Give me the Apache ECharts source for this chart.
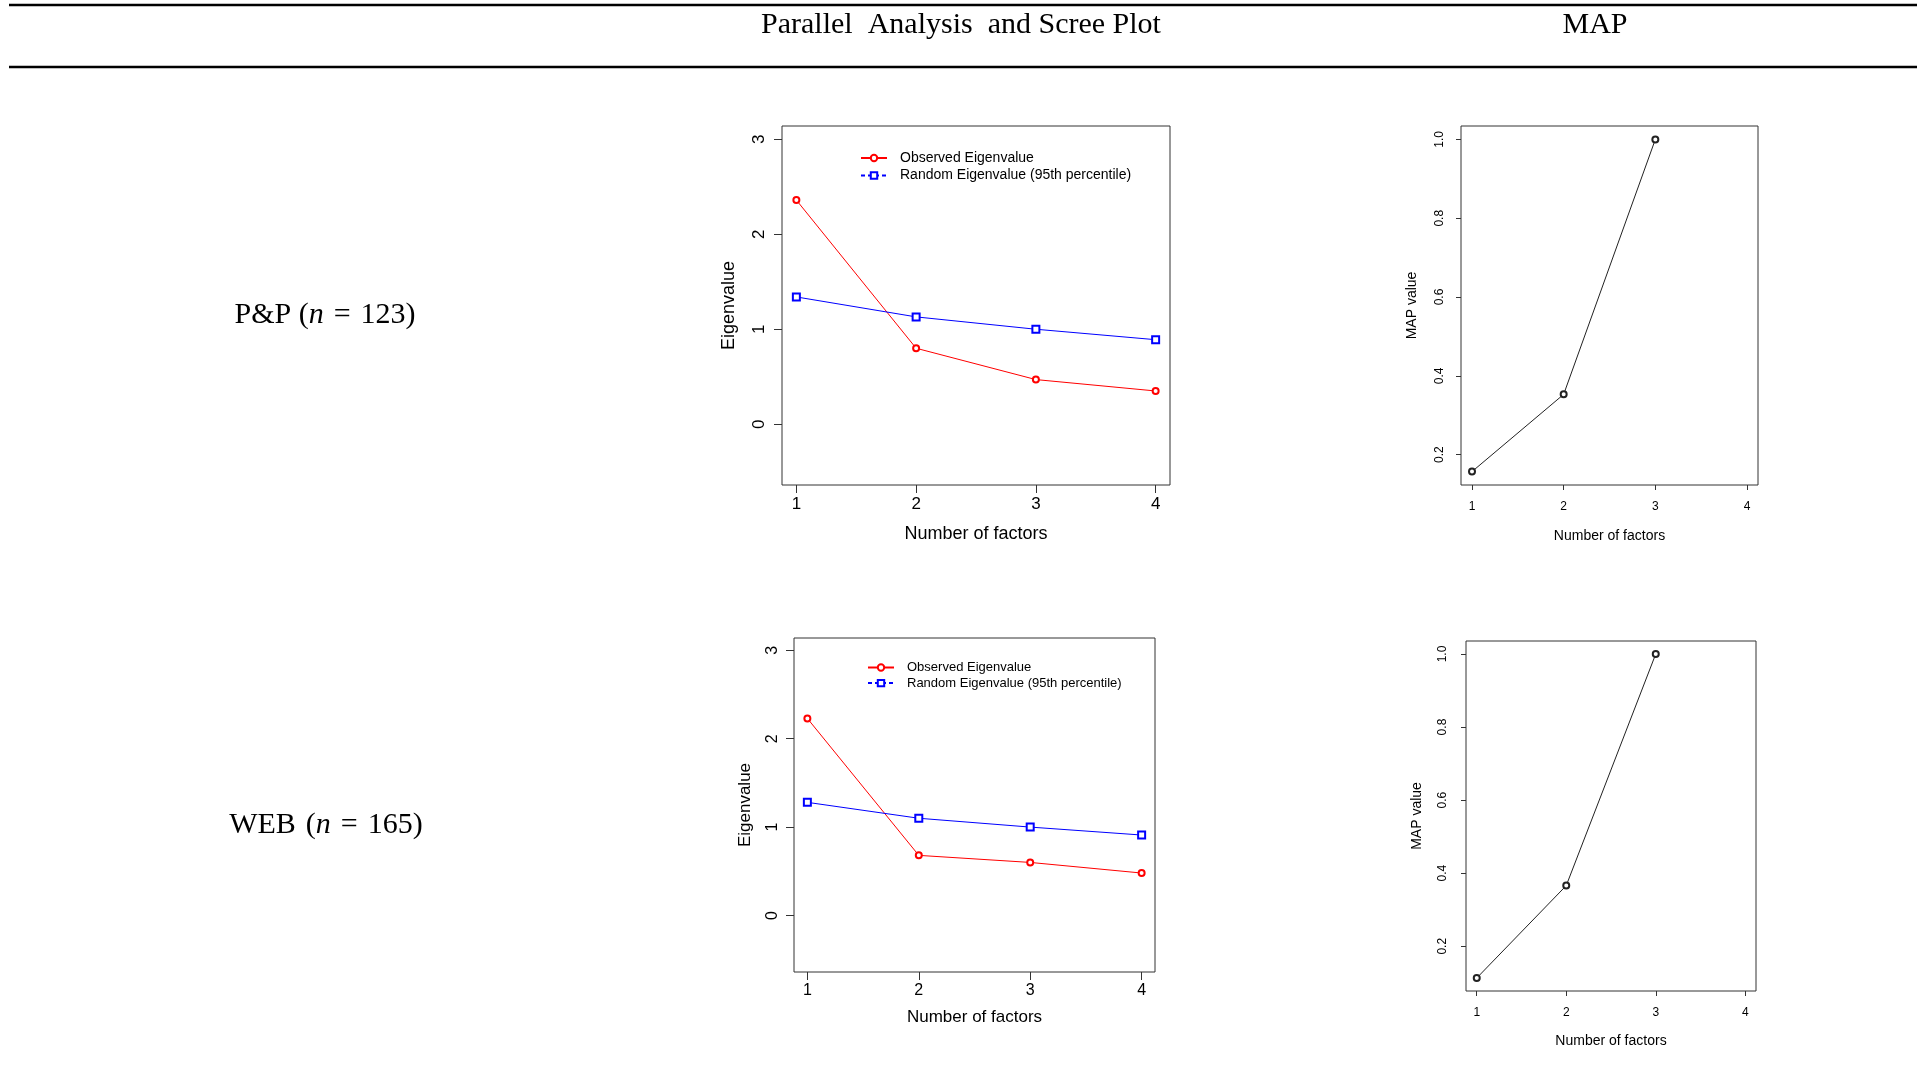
<!DOCTYPE html>
<html lang="en">
<head>
<meta charset="UTF-8">
<title>Parallel Analysis and MAP</title>
<script src="https://cdn.jsdelivr.net/npm/echarts@6/dist/echarts.min.js"></script>
<style>
    body{margin:0;background:#fff}
    #main{width:1917px;height:1091px}
</style>
</head>
<body>
<div id="main"></div>
<script>
    // values
    var factors=[1,2,3,4];
    var mapFactors=[1,2,3];
    var ppObserved=[2.36,0.80,0.47,0.35];
    var ppRandom=[1.34,1.13,1.00,0.89];
    var ppMap=[0.157,0.353,1.0];
    var webObserved=[2.23,0.68,0.60,0.48];
    var webRandom=[1.28,1.10,1.00,0.91];
    var webMap=[0.113,0.366,1.0];
    var eigenTicks=[0,1,2,3];
    var mapTicks=[0.2,0.4,0.6,0.8,1.0];
    var obsName='Observed Eigenvalue';
    var rndName='Random Eigenvalue (95th percentile)';

    var sans='"Liberation Sans", Arial, sans-serif';
    var serif='"Liberation Serif", "Times New Roman", serif';

    function pairs(xs,ys){
        var out=[];
        for(var i=0;i<ys.length;i++){
            out.push([xs[i],ys[i]]);
        }
        return out;
    }

    function xAxisFor(g,fs,margin,nameFs,nameGap,tickLen){
        return {
            type:'value',gridIndex:g,min:0.88,max:4.12,
            name:'Number of factors',nameLocation:'middle',nameGap:nameGap,
            nameTextStyle:{fontSize:nameFs,color:'#000',fontFamily:sans},
            axisLine:{show:false,onZero:false},
            splitLine:{show:false},
            axisTick:{show:true,length:tickLen,lineStyle:{color:'#333'},customValues:factors},
            axisLabel:{fontSize:fs,color:'#000',margin:margin,fontFamily:sans,customValues:factors}
        };
    }

    function yAxisFor(g,name,min,max,ticks,fs,margin,nameFs,nameGap,tickLen,dec){
        return {
            type:'value',gridIndex:g,min:min,max:max,
            name:name,nameLocation:'middle',nameGap:nameGap,
            nameTextStyle:{fontSize:nameFs,color:'#000',fontFamily:sans},
            axisLine:{show:false,onZero:false},
            splitLine:{show:false},
            axisTick:{show:true,length:tickLen,lineStyle:{color:'#333'},customValues:ticks},
            axisLabel:{fontSize:fs,color:'#000',margin:margin,rotate:90,fontFamily:sans,customValues:ticks,
                formatter:function(v){return dec?v.toFixed(1):String(v);}}
        };
    }

    function eigenSeries(name,data,g,color,symbol,size){
        return {
            name:name,type:'line',xAxisIndex:g,yAxisIndex:g,data:data,
            symbol:symbol,symbolSize:size,
            lineStyle:{color:color,width:1},
            itemStyle:{color:color,borderColor:color,borderWidth:1},
            emphasis:{disabled:true},
            silent:true
        };
    }

    function legendFor(left,top,fs,gap){
        return {
            orient:'vertical',left:left,top:top,padding:0,
            itemWidth:26,itemHeight:8,itemGap:gap,
            selectedMode:false,
            textStyle:{fontSize:fs,color:'#000',fontFamily:sans,padding:[0,0,0,8],lineHeight:fs},
            data:[{name:obsName},{name:rndName,lineStyle:{type:[4,3]}}]
        };
    }

    var myCharts=echarts.init(document.getElementById('main'));
    var option={
        backgroundColor:'#fff',
        animation:false,
        grid:[
            {left:782,top:126,width:388,height:359,show:true,borderColor:'#333',borderWidth:1,containLabel:false},
            {left:1461,top:126,width:297,height:359,show:true,borderColor:'#333',borderWidth:1,containLabel:false},
            {left:794,top:638,width:361,height:334,show:true,borderColor:'#333',borderWidth:1,containLabel:false},
            {left:1466,top:641,width:290,height:350,show:true,borderColor:'#333',borderWidth:1,containLabel:false}
        ],
        xAxis:[
            xAxisFor(0,17,11,18,40,8),
            xAxisFor(1,12,16,14,44,5),
            xAxisFor(2,16,11,17,37,8),
            xAxisFor(3,12,16,14,43,5)
        ],
        yAxis:[
            yAxisFor(0,'Eigenvalue',-0.64,3.14,eigenTicks,17,14,18,44,8,false),
            yAxisFor(1,'MAP value',0.123,1.034,mapTicks,12,15,14,42,5,true),
            yAxisFor(2,'Eigenvalue',-0.64,3.14,eigenTicks,16,13,17,40,8,false),
            yAxisFor(3,'MAP value',0.0775,1.0355,mapTicks,12,17,14,42,5,true)
        ],
        legend:[
            legendFor(860,151,14,3.5),
            legendFor(867,661,13,2.6)
        ],
        series:[
            eigenSeries(obsName,pairs(factors,ppObserved),0,'#ff0000','emptyCircle',6),
            eigenSeries(rndName,pairs(factors,ppRandom),0,'#0000ff','emptyRect',7),
            eigenSeries('MAP P&P',pairs(mapFactors,ppMap),1,'#222','emptyCircle',6),
            eigenSeries(obsName,pairs(factors,webObserved),2,'#ff0000','emptyCircle',6),
            eigenSeries(rndName,pairs(factors,webRandom),2,'#0000ff','emptyRect',7),
            eigenSeries('MAP WEB',pairs(mapFactors,webMap),3,'#222','emptyCircle',6)
        ],
        graphic:[
            {type:'line',shape:{x1:9,y1:5,x2:1917,y2:5},style:{stroke:'#000',lineWidth:2.5},silent:true},
            {type:'line',shape:{x1:9,y1:67,x2:1917,y2:67},style:{stroke:'#000',lineWidth:2.5},silent:true},
            {type:'text',x:961,y:25,silent:true,style:{text:'Parallel  Analysis  and Scree Plot',fontFamily:serif,fontSize:30,fill:'#000',align:'center',verticalAlign:'middle'}},
            {type:'text',x:1595,y:25,silent:true,style:{text:'MAP',fontFamily:serif,fontSize:30,fill:'#000',align:'center',verticalAlign:'middle'}},
            {type:'text',x:325,y:315,silent:true,style:{text:'{a|P&P (}{i|n}{a|\u2004=\u2004123)}',fontFamily:serif,fontSize:30,fill:'#000',align:'center',verticalAlign:'middle',
                rich:{a:{fontFamily:serif,fontSize:30,fill:'#000'},i:{fontFamily:serif,fontSize:30,fontStyle:'italic',fill:'#000'}}}},
            {type:'text',x:326,y:825,silent:true,style:{text:'{a|WEB\u2004(}{i|n}{a|\u2004=\u2004165)}',fontFamily:serif,fontSize:30,fill:'#000',align:'center',verticalAlign:'middle',
                rich:{a:{fontFamily:serif,fontSize:30,fill:'#000'},i:{fontFamily:serif,fontSize:30,fontStyle:'italic',fill:'#000'}}}}
        ]
    };
    myCharts.setOption(option,true);
</script>
</body>
</html>
